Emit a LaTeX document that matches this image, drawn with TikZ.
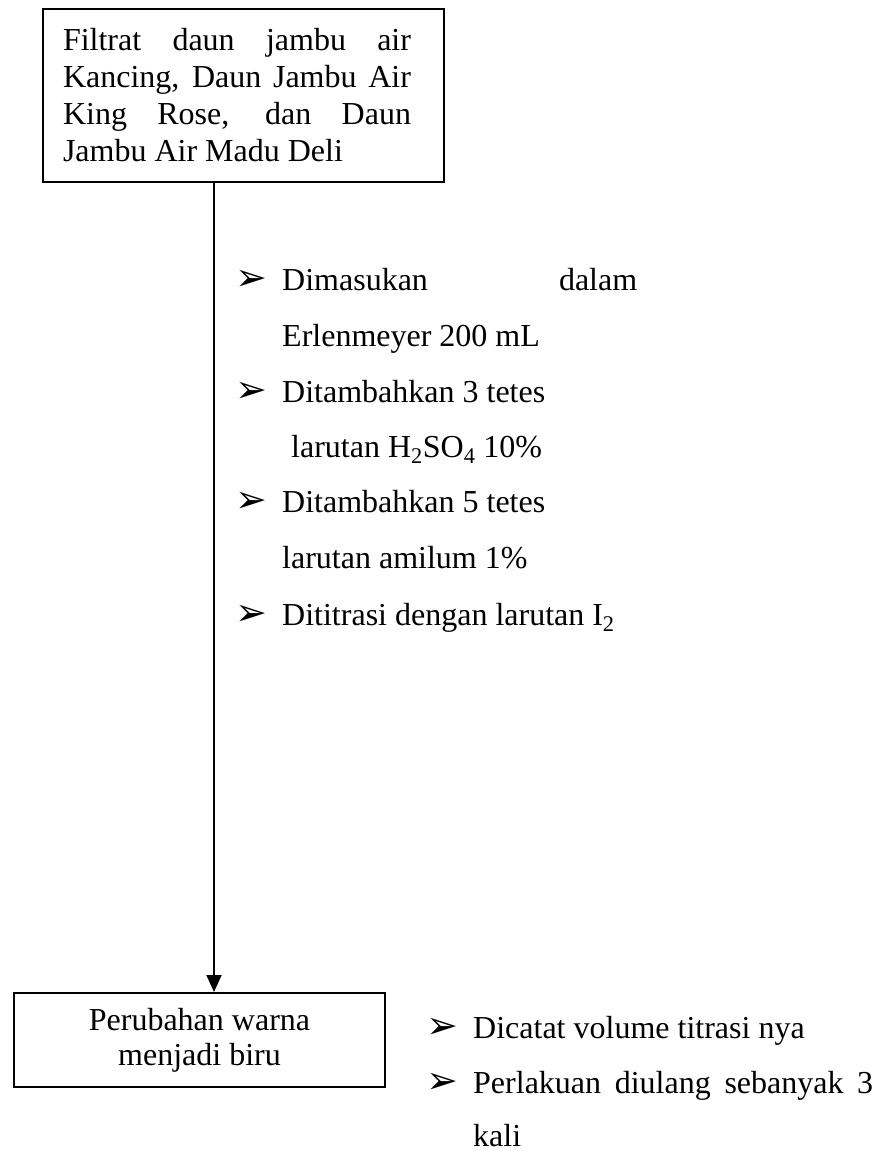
\documentclass[tikz,border=0pt]{standalone}
\usepackage{fontspec}
\setmainfont{Liberation Serif}
\newfontfamily\symfont{DejaVu Sans}
\usepackage{tikz}
\usetikzlibrary{arrows.meta}

\tikzset{
  box/.style={draw, line width=2pt, inner sep=0pt, anchor=north west},
  txt/.style={anchor=base west, inner sep=0pt},
  bul/.style={anchor=base west, inner sep=0pt, font=\symfont\fontsize{38}{38}\selectfont},
  flow/.style={line width=2pt, -{Triangle[width=15pt,length=17pt]}}
}

\begin{document}
\begin{tikzpicture}[x=1pt,y=1pt,font=\fontsize{32}{37}\selectfont]
 \useasboundingbox (0,0) rectangle (881,-1151);

 \draw (42,-8) node[box, minimum width=401pt, minimum height=173pt] (filtrat)
   {\hspace*{-13pt}\parbox{348pt}{Filtrat daun jambu air\linebreak
    Kancing, Daun Jambu Air\linebreak King Rose, dan Daun\linebreak
    Jambu Air Madu Deli}};
 \draw (13,-992) node[box, minimum width=371pt, minimum height=94pt, align=center,
   font=\fontsize{32}{35}\selectfont] (perubahan) {Perubahan warna\\menjadi biru};

 % langkah titrasi
  \draw (235,-290) node[bul] (b1) {➢};
  \draw (282,-290) node[txt] (dimasukan) {\hbox to 355pt{Dimasukan\hfill dalam}};
  \draw (282,-346) node[txt] (erlen) {Erlenmeyer 200 mL};
  \draw (235,-402) node[bul] (b2) {➢};
  \draw (282,-402) node[txt] (tambah1) {Ditambahkan 3 tetes};
  \draw (291,-457) node[txt] (asam) {larutan H\textsubscript{2}SO\textsubscript{4} 10\%};
  \draw (235,-512) node[bul] (b3) {➢};
  \draw (282,-512) node[txt] (tambah2) {Ditambahkan 5 tetes};
  \draw (282,-568) node[txt] (amilum) {larutan amilum 1\%};
  \draw (235,-625) node[bul] (b4) {➢};
  \draw (282,-625) node[txt] (titrasi) {Dititrasi dengan larutan I\textsubscript{2}};

 % catatan akhir
  \draw (426,-1038) node[bul] (b5) {➢};
  \draw (473,-1038) node[txt] (dicatat) {Dicatat volume titrasi nya};
  \draw (426,-1093) node[bul] (b6) {➢};
  \draw (473,-1093) node[txt] (ulang) {\hbox to 400pt{Perlakuan\hfill diulang\hfill sebanyak\hfill 3}};
  \draw (473,-1146) node[txt] (kali) {kali};

  \path[flow] ([xshift=-29.5pt]filtrat.south) edge ([xshift=-29.5pt]filtrat.south |- perubahan.north);

\end{tikzpicture}
\end{document}
